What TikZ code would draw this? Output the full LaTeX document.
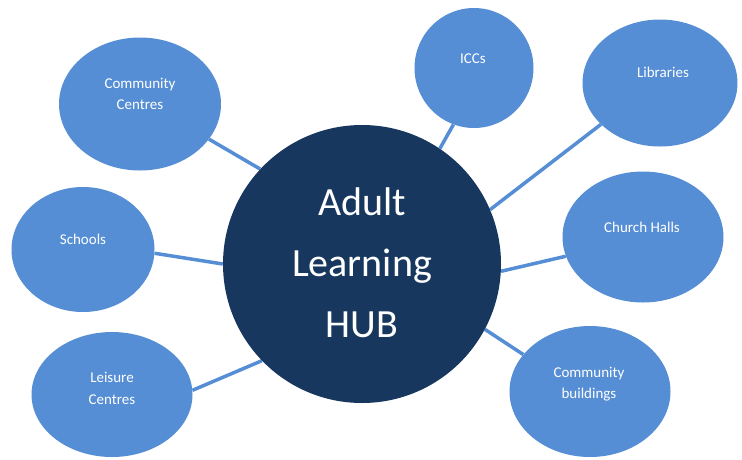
\documentclass[tikz,border=0pt]{standalone}
\usepackage{fontspec}
\setmainfont{Carlito}
\usetikzlibrary{shapes.geometric,backgrounds}
\definecolor{bub}{HTML}{558ED5}
\definecolor{hubc}{HTML}{17375E}
\begin{document}
\begin{tikzpicture}[x=1pt,y=-1pt,
  bubble/.style={ellipse, fill=bub, inner sep=0pt},
  lbl/.style={text=white, font=\fontsize{15}{21}\selectfont, anchor=base, inner sep=0pt},
  biglbl/.style={text=white, font=\fontsize{40}{61}\selectfont, anchor=base, inner sep=0pt},
  link/.style={draw=bub, line width=3.5pt}]
\useasboundingbox (0,0) rectangle (742,459);
% hub
\node[circle, fill=hubc, minimum size=278pt, inner sep=0pt] (hub) at (362,264) {};
\node[biglbl] (hubt1) at (362,215) {Adult};
\node[biglbl] (hubt2) at (362,276) {Learning};
\node[biglbl] (hubt3) at (362,337) {HUB};
% bubbles
\node[bubble, minimum width=162pt, minimum height=133pt] (cc) at (140,104) {};
\node[bubble, minimum width=119pt, minimum height=120pt] (icc) at (474,68) {};
\node[bubble, minimum width=155pt, minimum height=127pt] (lib) at (660,83) {};
\node[bubble, minimum width=161pt, minimum height=131pt] (ch) at (643,237) {};
\node[bubble, minimum width=161pt, minimum height=131pt] (cb) at (590,391.5) {};
\node[bubble, minimum width=143pt, minimum height=125pt] (sch) at (83,249.5) {};
\node[bubble, minimum width=161pt, minimum height=125pt] (lei) at (112,394.5) {};
% labels
\node[lbl] (cc1) at (140,88) {Community};
\node[lbl] (cc2) at (140,109) {Centres};
\node[lbl] (icct) at (473,63) {ICCs};
\node[lbl] (libt) at (663,77) {Libraries};
\node[lbl] (cht) at (642,232) {Church Halls};
\node[lbl] (scht) at (83,244) {Schools};
\node[lbl] (lei1) at (112,382) {Leisure};
\node[lbl] (lei2) at (112,404) {Centres};
\node[lbl] (cb1) at (589,377) {Community};
\node[lbl] (cb2) at (589,398) {buildings};
% connectors
\begin{scope}[on background layer]
\draw[link] (cc.-27) -- (hub.137);
\draw[link] (icc.-110) -- (hub.56);
\draw[link] (lib.215) -- (hub.23.5);
\draw[link] (ch.194) -- (hub.-3);
\draw[link] (cb.151) -- (hub.-28.5);
\draw[link] (lei.3) -- (hub.224);
\draw[link] (sch.-3) -- (hub.180.5);
\end{scope}
\end{tikzpicture}
\end{document}
